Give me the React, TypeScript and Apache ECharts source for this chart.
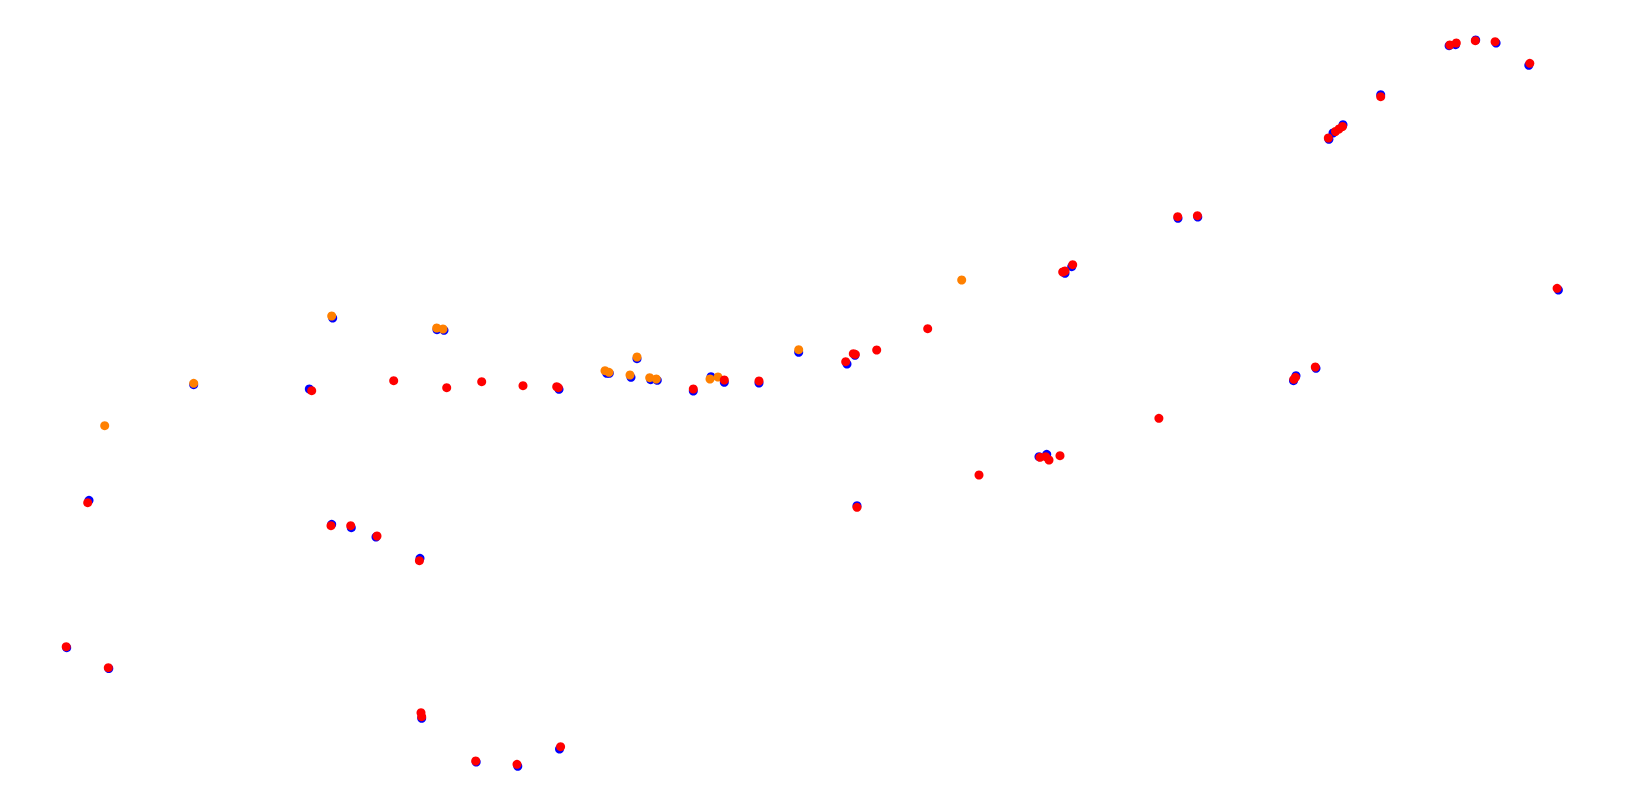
import React, { useEffect, useRef } from "react";
import * as echarts from "echarts";

// Point positions (x, y) in the chart's own coordinate space (y grows downward)
const blueSeries: number[][] = [
  [332.7, 318], [437, 329.7], [444, 330.3], [193.7, 384.7], [309.3, 389],
  [89, 500.3], [331.7, 524.3], [351.3, 527.7], [376, 537], [420, 558.3],
  [66.7, 647.7], [108.8, 668.5], [421.7, 718.3], [476.2, 762], [517.8, 766.3], [559.5, 749],
  [559, 389.3], [606.7, 373.3], [609.3, 373.3], [637, 358.7], [631, 377.3],
  [650.7, 379.7], [657.3, 380.3], [693.3, 391], [711, 376.7], [724.3, 382.3],
  [759, 383], [798.7, 352.3],
  [1071.7, 266.7], [1065, 273.3], [855, 355.3], [847, 364], [1039, 456.7],
  [1046.7, 454.3], [857, 505.7],
  [1449.1, 45.7], [1455.6, 44.7], [1475.7, 40], [1496.1, 43], [1528.8, 65.3],
  [1380.7, 94.7], [1343, 124.7], [1333, 133], [1328.9, 139.3], [1178, 218.3],
  [1197.8, 217], [1558.4, 290], [1316, 368.3], [1293.5, 380.7], [1296, 375.7],
];

const orangeSeries: number[][] = [
  [331.7, 316], [436.7, 328], [443, 329], [193.7, 383.3], [104.7, 425.7],
  [605, 370.7], [609, 372.3], [637, 357], [630, 375], [649.7, 377.7],
  [656.3, 379], [710, 379], [718, 377], [798.7, 349.7], [961.7, 280],
];

const redSeries: number[][] = [
  [393.7, 380.7], [446.7, 387.7], [311.7, 390.7], [87.7, 502.7], [331, 525.7],
  [350.7, 525.7], [377, 536], [419.4, 560.7], [66.2, 646.7], [108.3, 667.7],
  [421, 712.7], [421.7, 716.7], [475.7, 761], [517, 764.3], [560.6, 746.7],
  [481.7, 381.7], [523, 385.7], [556.7, 386.7], [558.3, 387.7], [693.3, 389],
  [724.3, 380], [759, 381], [845.7, 361.7], [853.3, 353.7], [855.3, 354.3],
  [876.7, 350], [927.7, 328.7], [1072.7, 264.7], [1065, 271], [1062.7, 272],
  [1040, 457.3], [1045.7, 456.7], [1049, 460], [1060, 455.7], [979, 475],
  [857, 507.3], [1449.8, 45], [1456.3, 43], [1475.3, 40.7], [1495.1, 41.7],
  [1529.8, 63.3], [1380.7, 96.7], [1342.5, 126.5], [1339, 129], [1335.5, 131.5],
  [1328.3, 138], [1177.7, 216.7], [1197.4, 215.7], [1557.1, 288.3], [1315.3, 367],
  [1295.5, 377.3], [1293.8, 379.3], [1158.9, 418.3],
];

const X_RANGE = [0, 1634];
const Y_RANGE = [0, 807];

export default function App() {
  const ref = useRef<HTMLDivElement>(null);

  useEffect(() => {
    if (!ref.current) return;
    const chart = echarts.init(ref.current, undefined, { renderer: "svg" });
    const base = {
      type: "scatter" as const,
      symbol: "circle",
      symbolSize: 9,
      silent: true,
    };
    chart.setOption({
      animation: false,
      backgroundColor: "#ffffff",
      grid: { left: 0, right: 0, top: 0, bottom: 0 },
      xAxis: {
        type: "value",
        min: X_RANGE[0],
        max: X_RANGE[1],
        show: false,
      },
      yAxis: {
        type: "value",
        min: Y_RANGE[0],
        max: Y_RANGE[1],
        inverse: true,
        show: false,
      },
      series: [
        { ...base, name: "blue", data: blueSeries, itemStyle: { color: "#0000ff", opacity: 1 }, z: 1 },
        { ...base, name: "orange", data: orangeSeries, itemStyle: { color: "#ff8000", opacity: 1 }, z: 2 },
        { ...base, name: "red", data: redSeries, itemStyle: { color: "#ff0000", opacity: 1 }, z: 3 },
      ],
    });
    return () => chart.dispose();
  }, []);

  return (
    <div
      ref={ref}
      style={{ position: "fixed", left: 0, top: 0, width: "1634px", height: "807px" }}
    />
  );
}
